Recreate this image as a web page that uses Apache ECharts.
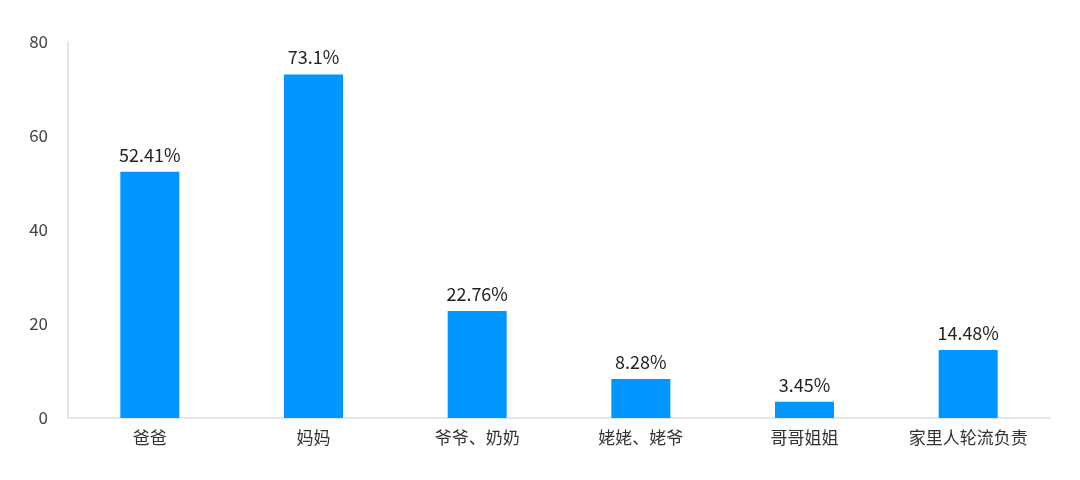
<!DOCTYPE html>
<html>
<head>
<meta charset="utf-8">
<script src="https://cdn.jsdelivr.net/npm/echarts@6/dist/echarts.min.js"></script>
<style>html,body{margin:0;padding:0;background:#fff;}#c{width:1080px;height:480px;}</style>
</head>
<body>
<div id="c"></div>
<script>
const categories = ['爸爸', '妈妈', '爷爷、奶奶', '姥姥、姥爷', '哥哥姐姐', '家里人轮流负责'];
const values = [52.41, 73.1, 22.76, 8.28, 3.45, 14.48];
const yTicks = { min: 0, max: 80, interval: 20 };

const chart = echarts.init(document.getElementById('c'));
const font = '"Noto Sans CJK SC", "Noto Sans", sans-serif';
chart.setOption({
  animation: false,
  grid: { left: 68, right: 30, top: 42, bottom: 62 },
  xAxis: {
    type: 'category',
    data: categories,
    axisLine: { lineStyle: { color: '#d6def0', width: 1.5 } },
    axisTick: { show: false },
    axisLabel: { color: '#333', fontSize: 17, fontFamily: font, margin: 11 }
  },
  yAxis: {
    type: 'value',
    min: yTicks.min, max: yTicks.max, interval: yTicks.interval,
    axisLine: { show: true, lineStyle: { color: '#d6def0', width: 1.5 } },
    axisTick: { show: false },
    splitLine: { show: false },
    axisLabel: { color: '#444', fontSize: 17, fontFamily: font, margin: 20 }
  },
  series: [{
    type: 'bar',
    data: values,
    barWidth: 59,
    itemStyle: { color: '#0096ff' },
    label: {
      show: true, position: 'top', distance: 8,
      color: '#222', fontSize: 18, fontFamily: font,
      formatter: p => p.value + '%'
    }
  }]
});
</script>
</body>
</html>
